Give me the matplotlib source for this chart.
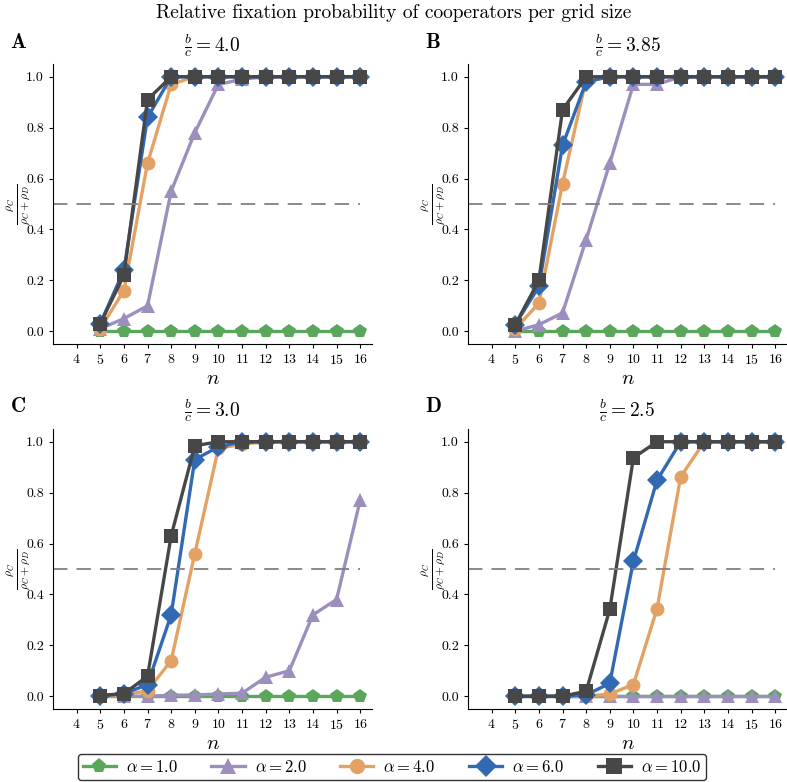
import matplotlib
matplotlib.use("Agg")
import matplotlib.pyplot as plt
import numpy as np

plt.rcParams['font.family'] = 'serif'
plt.rcParams['font.serif'] = ['cmr10', 'DejaVu Serif']
plt.rcParams['mathtext.fontset'] = 'cm'
plt.rcParams['axes.formatter.use_mathtext'] = True
plt.rcParams['axes.unicode_minus'] = False

n = np.arange(5, 17)
ratios = ["4.0", "3.85", "3.0", "2.5"]
panel_letters = ["A", "B", "C", "D"]
alphas = ["1.0", "2.0", "4.0", "6.0", "10.0"]

# values per panel, one list per alpha (n = 5..16)
vals_A = [
    [0.0] * 12,
    [0.01, 0.05, 0.10, 0.55, 0.78, 0.97, 0.99, 1.0, 1.0, 1.0, 1.0, 1.0],
    [0.01, 0.16, 0.66, 0.97, 1.0, 1.0, 1.0, 1.0, 1.0, 1.0, 1.0, 1.0],
    [0.03, 0.24, 0.84, 1.0, 1.0, 1.0, 1.0, 1.0, 1.0, 1.0, 1.0, 1.0],
    [0.03, 0.22, 0.91, 1.0, 1.0, 1.0, 1.0, 1.0, 1.0, 1.0, 1.0, 1.0],
]
vals_B = [
    [0.0] * 12,
    [0.0, 0.026, 0.072, 0.36, 0.66, 0.97, 0.97, 1.0, 1.0, 1.0, 1.0, 1.0],
    [0.01, 0.11, 0.58, 0.99, 1.0, 1.0, 1.0, 1.0, 1.0, 1.0, 1.0, 1.0],
    [0.026, 0.176, 0.73, 0.98, 1.0, 1.0, 1.0, 1.0, 1.0, 1.0, 1.0, 1.0],
    [0.026, 0.20, 0.87, 1.0, 1.0, 1.0, 1.0, 1.0, 1.0, 1.0, 1.0, 1.0],
]
vals_C = [
    [0.0] * 12,
    [0.0, 0.0, 0.0, 0.004, 0.005, 0.009, 0.012, 0.075, 0.10, 0.32, 0.38, 0.77],
    [0.0, 0.005, 0.022, 0.14, 0.56, 0.974, 0.99, 1.0, 1.0, 1.0, 1.0, 1.0],
    [0.003, 0.01, 0.046, 0.32, 0.93, 0.98, 1.0, 1.0, 1.0, 1.0, 1.0, 1.0],
    [0.003, 0.01, 0.079, 0.63, 0.984, 1.0, 1.0, 1.0, 1.0, 1.0, 1.0, 1.0],
]
vals_D = [
    [0.0] * 12,
    [0.0] * 12,
    [0.0, 0.0, 0.0, 0.0, 0.009, 0.046, 0.344, 0.862, 1.0, 1.0, 1.0, 1.0],
    [0.0, 0.0, 0.0, 0.005, 0.051, 0.531, 0.849, 1.0, 1.0, 1.0, 1.0, 1.0],
    [0.0, 0.0, 0.0, 0.02, 0.341, 0.937, 1.0, 1.0, 1.0, 1.0, 1.0, 1.0],
]
all_vals = [vals_A, vals_B, vals_C, vals_D]

colors = ['#5aa65b', '#9d8fbd', '#e3a264', '#3169b3', '#474747']
markers = ['p', '^', 'o', 'D', 's']

fig = plt.figure(figsize=(7.87, 7.82), dpi=100)
W, H = 787., 782.
boxes = [(53, 64), (468, 64), (53, 429), (468, 429)]
aw, ah = 319., 280.

handles = []
for i, (x0, y0) in enumerate(boxes):
    ax = fig.add_axes([x0 / W, 1 - (y0 + ah) / H, aw / W, ah / H])
    for j in range(5):
        h, = ax.plot(n, all_vals[i][j], color=colors[j], marker=markers[j],
                     markersize=10, linewidth=2.4, markeredgewidth=0,
                     label=r'$\alpha = %s$' % alphas[j])
        if i == 0:
            handles.append(h)
    ax.plot([3, 16], [0.5, 0.5], color='grey', linestyle=(0, (8, 5)), linewidth=1.3)
    ax.set_xlim(3, 16.5)
    ax.set_ylim(-0.05, 1.05)
    ax.set_xticks(np.arange(4, 17))
    ax.set_yticks(np.arange(0, 1.01, 0.2))
    ax.set_yticklabels(['%.1f' % v for v in np.arange(0, 1.01, 0.2)])
    ax.tick_params(labelsize=10, length=3, width=0.8)
    for s in ['top', 'right']:
        ax.spines[s].set_visible(False)
    ax.set_xlabel(r'$n$', fontsize=15, labelpad=2)
    ax.set_ylabel(r'$\frac{\rho_C}{\rho_C+\rho_D}$', fontsize=12)
    ax.yaxis.set_label_coords(-21 / aw, 0.5)
    ax.set_title(r'$\frac{b}{c} = %s$' % ratios[i], fontsize=14, pad=8)
    fig.text((x0 - 43) / W, 1 - (y0 - 22) / H, r'$\mathbf{%s}$' % panel_letters[i],
             fontsize=15, ha='left', va='center')

fig.text(0.5, 1 - 13 / H, 'Relative fixation probability of cooperators per grid size',
         fontsize=14, ha='center', va='center')

leg = fig.legend(handles=handles, loc='center', bbox_to_anchor=(392 / W, 1 - 767 / H),
                 ncol=5, fontsize=12, frameon=True, fancybox=True, handlelength=2.0,
                 handletextpad=0.6, borderpad=0.3, columnspacing=2.0, markerscale=1.1)
leg.get_frame().set_edgecolor('black')
leg.get_frame().set_linewidth(1.0)

fig.savefig('out.png', dpi=100)
